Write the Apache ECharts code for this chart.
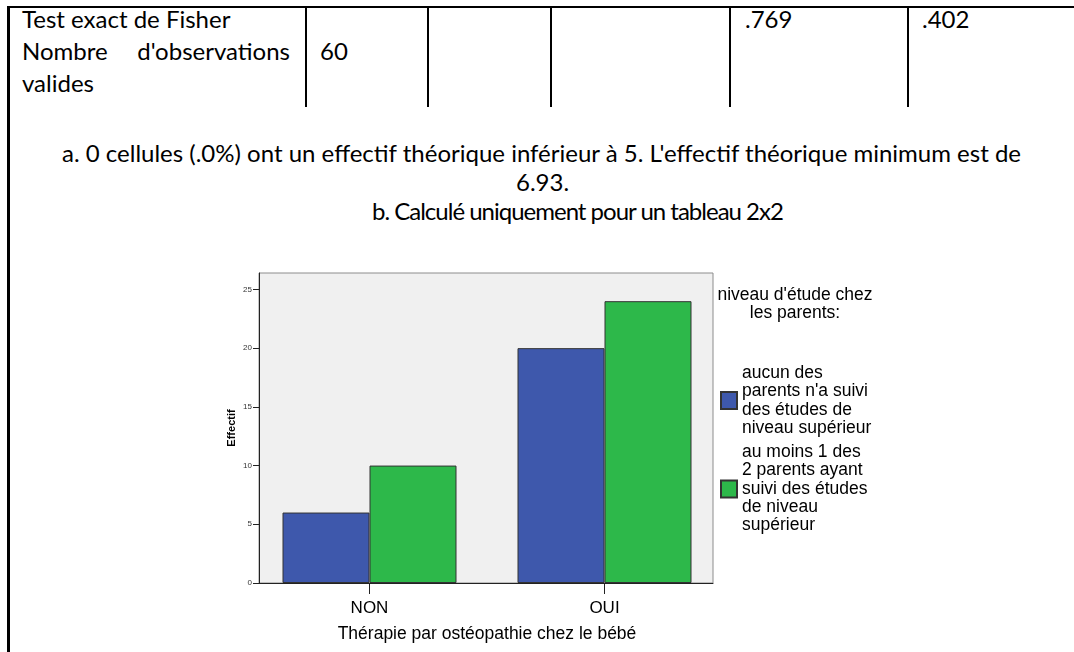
<!DOCTYPE html>
<html>
<head>
<meta charset="utf-8">
<script src="https://cdn.jsdelivr.net/npm/echarts@6/dist/echarts.min.js"></script>
<style>
  body { margin: 0; background: #fff; }
  #page { position: relative; width: 1074px; height: 652px; overflow: hidden; font-family: Lato, 'Open Sans', sans-serif; font-size: 24px; color: #000; }
  .ln { position: absolute; background: #000; }
  .tx { position: absolute; white-space: nowrap; line-height: 24px; }
  #echart { position: absolute; left: 0; top: 0; width: 1074px; height: 652px; }
</style>
</head>
<body>
<div id="page">
  <!-- bordures du tableau -->
  <div class="ln" style="left:7px;top:6px;width:1067px;height:2px"></div>
  <div class="ln" style="left:7px;top:6px;width:3px;height:646px"></div>
  <div class="ln" style="left:305px;top:6px;width:2px;height:101px"></div>
  <div class="ln" style="left:427px;top:6px;width:2px;height:101px"></div>
  <div class="ln" style="left:550px;top:6px;width:2px;height:101px"></div>
  <div class="ln" style="left:729px;top:6px;width:2px;height:101px"></div>
  <div class="ln" style="left:907px;top:6px;width:2px;height:101px"></div>

  <div class="tx" style="left:22px;top:7px">Test exact de Fisher</div>
  <div class="tx" style="left:22px;top:39px">Nombre</div>
  <div class="tx" style="left:290px;top:39px;transform:translateX(-100%)">d'observations</div>
  <div class="tx" style="left:22px;top:71px">valides</div>
  <div class="tx" style="left:320px;top:39px">60</div>
  <div class="tx" style="left:745px;top:7px">.769</div>
  <div class="tx" style="left:922px;top:7px">.402</div>

  <div class="tx" style="left:62px;top:141px">a. 0 cellules (.0%) ont un effectif théorique inférieur à 5. L'effectif théorique minimum est de</div>
  <div class="tx" style="left:516px;top:170px">6.93.</div>
  <div class="tx" style="left:372px;top:199px;letter-spacing:-1px">b. Calculé uniquement pour un tableau 2x2</div>

  <div id="echart"></div>
</div>
<script>
// catégories et effectifs
const categories = ['NON', 'OUI'];
const seriesNames = [
  "aucun des\nparents n'a suivi\ndes études de\nniveau supérieur",
  "au moins 1 des\n2 parents ayant\nsuivi des études\nde niveau\nsupérieur"
];
const aucunValues = [6, 20];
const auMoinsValues = [10, 24];
const yTicks = [0, 5, 10, 15, 20, 25];
const yMax = 26.4;

const font = "'Liberation Sans', Arial, sans-serif";
const chart = echarts.init(document.getElementById('echart'));

chart.setOption({
  animation: false,
  textStyle: { fontFamily: font },
  grid: [
    // cadre gris du graphique
    { left: 259, top: 273, width: 454, height: 310, show: true, backgroundColor: '#f0f0f0', borderColor: '#8c8c8c', borderWidth: 1 },
    // grille des barres
    { left: 252, top: 273, width: 470, height: 310 }
  ],
  xAxis: [
    {
      gridIndex: 0, type: 'value', min: 0, max: 1,
      axisLine: { show: true, lineStyle: { color: '#222' } },
      axisTick: { show: false }, axisLabel: { show: false }, splitLine: { show: false }
    },
    {
      gridIndex: 1, type: 'category', data: categories,
      axisLine: { show: false },
      axisTick: { show: true, alignWithLabel: true, length: 11, lineStyle: { color: '#222' } },
      axisLabel: { fontSize: 17, color: '#000', margin: 17 },
      name: 'Thérapie par ostéopathie chez le bébé',
      nameLocation: 'middle', nameGap: 42,
      nameTextStyle: { fontSize: 17.5, color: '#000' }
    }
  ],
  yAxis: [
    {
      gridIndex: 0, type: 'value', min: 0, max: yMax,
      axisLine: { show: true, lineStyle: { color: '#222' } },
      axisTick: { show: true, length: 6, customValues: yTicks, lineStyle: { color: '#222' } },
      axisLabel: { customValues: yTicks, fontSize: 8, margin: 7, color: '#333' },
      splitLine: { show: false },
      name: 'Effectif', nameLocation: 'middle', nameRotate: 90, nameGap: 22,
      nameTextStyle: { fontSize: 11, fontWeight: 'bold', color: '#000' }
    },
    { gridIndex: 1, type: 'value', min: 0, max: yMax, show: false }
  ],
  legend: {
    orient: 'vertical', left: 720, top: 364, padding: 0,
    itemWidth: 16, itemHeight: 17, itemGap: 6, icon: 'rect',
    selectedMode: false,
    textStyle: { fontSize: 17.5, lineHeight: 18.3, color: '#000' },
    data: seriesNames
  },
  graphic: [
    {
      type: 'text', x: 795, y: 286,
      style: {
        text: "niveau d'étude chez\nles parents:",
        align: 'center', verticalAlign: 'top',
        fontSize: 17.5, lineHeight: 18, fontFamily: font, fill: '#000'
      }
    }
  ],
  series: [
    {
      type: 'bar', name: seriesNames[0], xAxisIndex: 1, yAxisIndex: 1,
      data: aucunValues, barWidth: 87, barGap: '0%',
      itemStyle: { color: '#3e58ac', borderColor: '#333', borderWidth: 1 }
    },
    {
      type: 'bar', name: seriesNames[1], xAxisIndex: 1, yAxisIndex: 1,
      data: auMoinsValues, barWidth: 87, barGap: '0%',
      itemStyle: { color: '#2db84a', borderColor: '#333', borderWidth: 1 }
    }
  ]
});
</script>
</body>
</html>
